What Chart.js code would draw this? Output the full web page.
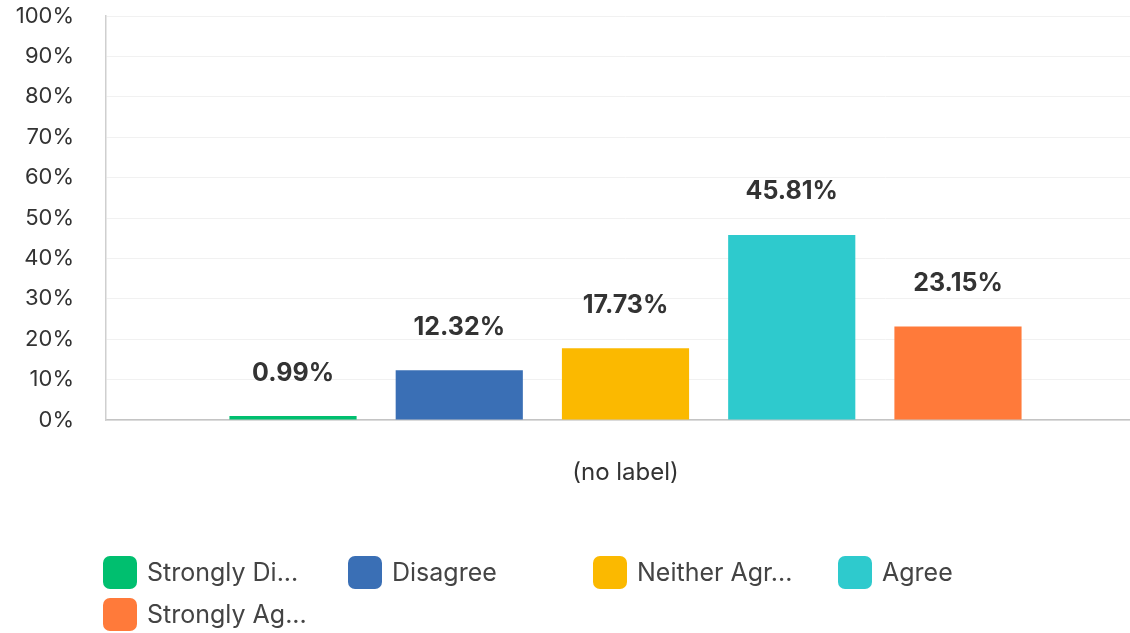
<!DOCTYPE html>
<html>
<head>
<meta charset="utf-8">
<script src="https://cdn.jsdelivr.net/npm/chart.js@4.4.1/dist/chart.umd.min.js"></script>
<style>
  html, body { margin: 0; padding: 0; background: #fff; }
  #wrap { position: relative; width: 1130px; height: 633px; overflow: hidden; }
  #chart-box { position: absolute; left: 0; top: 0; width: 1160px; height: 500px; }
  #legend { position: absolute; left: 0; top: 0; width: 1130px; height: 633px; pointer-events: none; }
  .item { position: absolute; height: 32px; display: flex; align-items: center;
          font-family: Inter, sans-serif; font-size: 25px; color: #444; white-space: nowrap; }
  .swatch { width: 34px; height: 33px; border-radius: 7px; margin-right: 10px; flex: none; }
</style>
</head>
<body>
<div id="wrap">
  <div id="chart-box"><canvas id="survey-chart" width="1160" height="500"></canvas></div>
  <div id="legend"></div>
</div>
<script>
const categories = ['(no label)'];
const answers = ['Strongly Disagree', 'Disagree', 'Neither Agree nor Disagree', 'Agree', 'Strongly Agree'];
const percents = [0.99, 12.32, 17.73, 45.81, 23.15];
const colors = ['#00bf6f', '#3a6fb5', '#fbb900', '#2ecacd', '#ff7a3a'];
const yTicks = [0, 10, 20, 30, 40, 50, 60, 70, 80, 90, 100];

// legend spots: [left, top]
const legendSpots = [[103, 556], [348, 556], [593, 556], [838, 556], [103, 598]];

const shortName = (name) => (name.length > 12 ? `${name.slice(0, 11)}...` : name);

// value labels over each bar
const valueLabels = {
  id: 'valueLabels',
  afterDatasetsDraw(chart) {
    const { ctx } = chart;
    ctx.save();
    ctx.font = 'bold 25px Inter, sans-serif';
    ctx.fillStyle = '#333';
    ctx.textAlign = 'center';
    ctx.textBaseline = 'middle';
    chart.data.datasets.forEach((ds, i) => {
      chart.getDatasetMeta(i).data.forEach((bar, j) => {
        ctx.fillText(`${ds.data[j].toFixed(2)}%`, bar.x, bar.y - 43);
      });
    });
    ctx.restore();
  },
};

const ctx = document.getElementById('survey-chart').getContext('2d');
/* global Chart */
const chart = new Chart(ctx, {
  type: 'bar',
  data: {
    labels: categories,
    datasets: answers.map((name, i) => ({
      label: name,
      data: [percents[i]],
      backgroundColor: colors[i],
      borderWidth: 0,
      categoryPercentage: 0.8,
      barPercentage: 0.765,
    })),
  },
  options: {
    responsive: false,
    animation: false,
    layout: { padding: { top: 16, right: 15, left: 0, bottom: 0 } },
    plugins: { legend: { display: false }, tooltip: { enabled: false } },
    scales: {
      x: {
        grid: { display: false },
        border: { display: true, color: '#c4c4c4', width: 1.5 },
        ticks: { color: '#333', padding: 30, font: { family: 'Inter', size: 24 } },
        afterFit: (scale) => { scale.height = 80; },
      },
      y: {
        min: 0,
        max: 100,
        afterBuildTicks: (scale) => { scale.ticks = yTicks.map((v) => ({ value: v })); },
        grid: { color: '#f1f1f1', drawTicks: false },
        border: { display: true, color: '#cfcfcf', width: 1.5 },
        ticks: {
          color: '#333',
          padding: 32,
          font: { family: 'Inter', size: 22 },
          callback: (v) => `${v}%`,
        },
        afterFit: (scale) => {
          scale.width = 106;
          scale.paddingTop = 0;
          scale.paddingBottom = 0;
        },
      },
    },
  },
  plugins: [valueLabels],
});

// html legend from the datasets
const legend = document.getElementById('legend');
chart.data.datasets.forEach((ds, i) => {
  const item = document.createElement('div');
  item.className = 'item';
  item.style.left = `${legendSpots[i][0]}px`;
  item.style.top = `${legendSpots[i][1]}px`;
  const sw = document.createElement('span');
  sw.className = 'swatch';
  sw.style.background = ds.backgroundColor;
  item.appendChild(sw);
  item.appendChild(document.createTextNode(shortName(ds.label)));
  legend.appendChild(item);
});
</script>
</body>
</html>
